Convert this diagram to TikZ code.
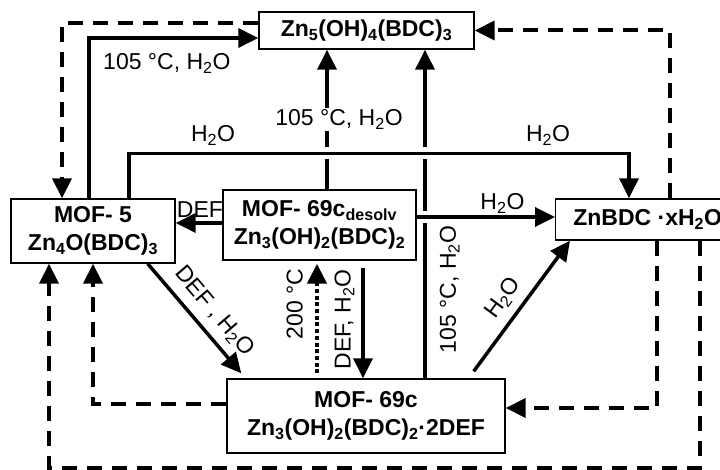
\documentclass[tikz,border=0pt]{standalone}
\usepackage{fontspec}
\setmainfont{Liberation Sans}
\usetikzlibrary{arrows.meta,positioning}
\newcommand{\sbs}[1]{\textsubscript{#1}}

\begin{document}
\begin{tikzpicture}[x=1pt, y=-1pt, font=\fontsize{23}{27}\selectfont, >={Triangle[length=20pt,width=19pt]},
box/.style={draw, line width=1.4pt, font=\fontsize{23}{28}\selectfont\bfseries, align=center, inner sep=0pt},
arr/.style={->, line width=3.5pt},
dsh/.style={->, line width=4pt, dash pattern=on 15pt off 10pt},
dotarr/.style={->, line width=4.5pt, dash pattern=on 4pt off 2.7pt},
hop/.style={preaction={draw=white, line width=12pt, -, shorten <=5pt, shorten >=5pt}},
lbl/.style={inner sep=2pt}]
\clip (0,0) rectangle (720,470);
\node[box, minimum width=215pt, minimum height=37pt] (zn5) at (366.5,30.5) {Zn\sbs{5}(OH)\sbs{4}(BDC)\sbs{3}};
\node[box, minimum width=164pt, minimum height=64pt] (mof5) at (93,231) {MOF- 5\\Zn\sbs{4}O(BDC)\sbs{3}};
\node[box, minimum width=193pt, minimum height=70pt] (desolv) at (319.5,225) {MOF- 69c\sbs{desolv}\\Zn\sbs{3}(OH)\sbs{2}(BDC)\sbs{2}};
\node[box, minimum width=184pt, minimum height=41pt, anchor=west] (znbdc) at (555,219.5) {ZnBDC ·xH\sbs{2}O};
\node[box, minimum width=278pt, minimum height=74pt] (mof69c) at (366,416) {MOF- 69c\\Zn\sbs{3}(OH)\sbs{2}(BDC)\sbs{2}·2DEF};
% top
\draw[arr] ([xshift=-4pt]mof5.north) |- node[lbl, pos=0.73, below=12pt] {105 °C, H\sbs{2}O} ([yshift=-7.5pt]zn5.west);
\draw[dsh] ([yshift=7.5pt]zn5.west) -| ([xshift=-31pt]mof5.north);
\draw[dsh] ([xshift=115pt]znbdc.north west) |- (zn5.east);
\draw[arr] ([xshift=7.5pt]desolv.north) -- node[lbl, fill=white, xshift=12pt] {105 °C, H\sbs{2}O} ([xshift=7.5pt]desolv.north |- zn5.south);
\draw[arr] ([xshift=59pt]mof69c.north) -- node[lbl, pos=0.27, rotate=90, anchor=north, yshift=-11pt] {105 °C, H\sbs{2}O} ([xshift=59pt]mof69c.north |- zn5.south);
\draw[arr, hop] ([xshift=36pt]mof5.north) -- ++(0,-45) -| node[lbl, pos=0.084, above=4pt] {H\sbs{2}O} node[lbl, pos=0.419, above=4pt] {H\sbs{2}O} ([xshift=74pt]znbdc.north west);
% middle
\draw[arr, hop] ([yshift=8pt]desolv.east) -- node[lbl, pos=0.62, above=0pt] {H\sbs{2}O} ([yshift=8pt]desolv.east -| znbdc.west);
\draw[arr] ([yshift=2pt]desolv.west) -- node[lbl, pos=0.48, above=2pt] {DEF} ([yshift=2pt]desolv.west -| mof5.east);
\draw[arr] ([xshift=-28pt]mof5.south east) -- node[lbl, sloped, above=6pt, pos=0.55] {DEF , H\sbs{2}O} ([xshift=15pt,yshift=5pt]mof69c.north west);
\draw[dotarr, shorten >=3pt, shorten <=5pt] ([xshift=-49pt]mof69c.north) -- node[lbl, pos=0.63, rotate=90, anchor=south, yshift=10pt] {200 °C} ([xshift=-49pt]mof69c.north |- desolv.south);
\draw[arr, shorten <=7pt] ([xshift=43.5pt]desolv.south) -- node[lbl, pos=0.5, rotate=90, anchor=south, yshift=5pt] {DEF, H\sbs{2}O} ([xshift=43.5pt]desolv.south |- mof69c.north);
\draw[arr] ([xshift=-32pt,yshift=7pt]mof69c.north east) -- node[lbl, sloped, above=6pt, pos=0.47] {H\sbs{2}O} ([xshift=15pt]znbdc.south west);
% bottom
\draw[dsh] ([xshift=102pt]znbdc.south west) |- ([yshift=8pt]mof69c.east);
\draw[dsh] ([xshift=145pt]znbdc.south west) -- ++(0,227) -| ([xshift=-44pt]mof5.south);
\draw[dsh] ([yshift=12.5pt]mof69c.west) -| (mof5.south);
\end{tikzpicture}
\end{document}
